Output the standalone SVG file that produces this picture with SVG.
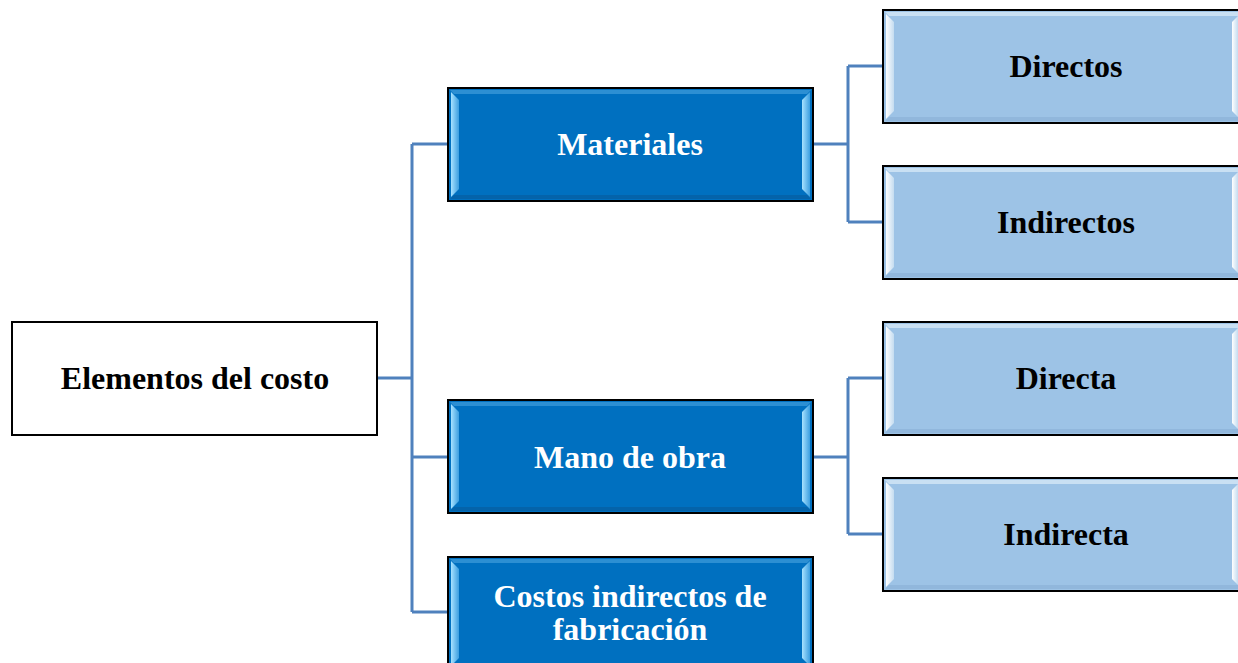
<svg xmlns="http://www.w3.org/2000/svg" width="1238" height="663" viewBox="0 0 1238 663">
<defs>
<style>
.t{font-family:"Liberation Serif","Times New Roman",serif;font-weight:bold;font-size:32px;text-anchor:middle}
.w{fill:#ffffff}
.k{fill:#000000}
.dark{fill:#0070c0;stroke:#000;stroke-width:2}
.light{fill:#9dc3e6;stroke:#000;stroke-width:2}
.root{fill:#fff;stroke:#000;stroke-width:2}
.c{fill:none;stroke:#4f81bd;stroke-width:3}
.bvD{fill:url(#gD)}
.bvL{fill:url(#gL)}
.tD{fill:#4aa3e0;opacity:0.6}
.tL{fill:#dcecf8;opacity:0.7}
.bDb{fill:#0a4f8a;opacity:0.4}
.bLb{fill:#7fa6cc;opacity:0.4}
</style>
<linearGradient id="gD" x1="0" y1="0" x2="1" y2="0">
<stop offset="0" stop-color="#a8e2ff"/><stop offset="1" stop-color="#3b9ee0"/>
</linearGradient>
<linearGradient id="gL" x1="0" y1="0" x2="1" y2="0">
<stop offset="0" stop-color="#ffffff"/><stop offset="1" stop-color="#c4dcf0"/>
</linearGradient>
</defs>
<g id="connectors">
<path class="c" d="M377,378 H412 M412,144 V612 M412,144 H448 M412,457 H448 M412,612 H448"/>
<path class="c" d="M813,144 H848 M848,66 V222 M848,66 H883 M848,222 H883"/>
<path class="c" d="M813,457 H848 M848,378 V534 M848,378 H883 M848,534 H883"/>
</g>
<g id="root">
<rect class="root" x="12" y="322" width="365" height="113"/>
<text class="t k" x="195" y="389">Elementos del costo</text>
</g>
<g id="materiales">
<rect class="dark" x="448" y="88" width="365" height="113"/>
<polygon class="tD" points="450,90 811,90 807,94 454,94"/>
<polygon class="bDb" points="450,199 811,199 807,195 454,195"/>
<polygon class="bvD" points="451,92 459,100 459,189 451,197"/>
<polygon class="bvD" points="802,100 810,92 810,197 802,189"/>
<text class="t w" x="630" y="155">Materiales</text>
</g>
<g id="manodeobra">
<rect class="dark" x="448" y="400" width="365" height="113"/>
<polygon class="tD" points="450,402 811,402 807,406 454,406"/>
<polygon class="bDb" points="450,511 811,511 807,507 454,507"/>
<polygon class="bvD" points="451,404 459,412 459,501 451,509"/>
<polygon class="bvD" points="802,412 810,404 810,509 802,501"/>
<text class="t w" x="630" y="468">Mano de obra</text>
</g>
<g id="costos">
<rect class="dark" x="448" y="557" width="365" height="113"/>
<polygon class="tD" points="450,559 811,559 807,563 454,563"/>
<polygon class="bvD" points="451,561 459,569 459,658 451,666"/>
<polygon class="bvD" points="802,569 810,561 810,666 802,658"/>
<text class="t w" x="630" y="607">Costos indirectos de</text>
<text class="t w" x="630" y="640">fabricación</text>
</g>
<g id="directos">
<rect class="light" x="883" y="10" width="365" height="113"/>
<polygon class="tL" points="885,12 1246,12 1242,16 889,16"/>
<polygon class="bLb" points="885,121 1246,121 1242,117 889,117"/>
<polygon class="bvL" points="886,14 894,22 894,111 886,119"/>
<polygon class="bvL" points="1232,22 1238,16 1238,117 1232,111"/>
<text class="t k" x="1066" y="77">Directos</text>
</g>
<g id="indirectos">
<rect class="light" x="883" y="166" width="365" height="113"/>
<polygon class="tL" points="885,168 1246,168 1242,172 889,172"/>
<polygon class="bLb" points="885,277 1246,277 1242,273 889,273"/>
<polygon class="bvL" points="886,170 894,178 894,267 886,275"/>
<polygon class="bvL" points="1232,178 1238,172 1238,273 1232,267"/>
<text class="t k" x="1066" y="233">Indirectos</text>
</g>
<g id="directa">
<rect class="light" x="883" y="322" width="365" height="113"/>
<polygon class="tL" points="885,324 1246,324 1242,328 889,328"/>
<polygon class="bLb" points="885,433 1246,433 1242,429 889,429"/>
<polygon class="bvL" points="886,326 894,334 894,423 886,431"/>
<polygon class="bvL" points="1232,334 1238,328 1238,429 1232,423"/>
<text class="t k" x="1066" y="389">Directa</text>
</g>
<g id="indirecta">
<rect class="light" x="883" y="478" width="365" height="113"/>
<polygon class="tL" points="885,480 1246,480 1242,484 889,484"/>
<polygon class="bLb" points="885,589 1246,589 1242,585 889,585"/>
<polygon class="bvL" points="886,482 894,490 894,579 886,587"/>
<polygon class="bvL" points="1232,490 1238,484 1238,585 1232,579"/>
<text class="t k" x="1066" y="545">Indirecta</text>
</g>
</svg>
